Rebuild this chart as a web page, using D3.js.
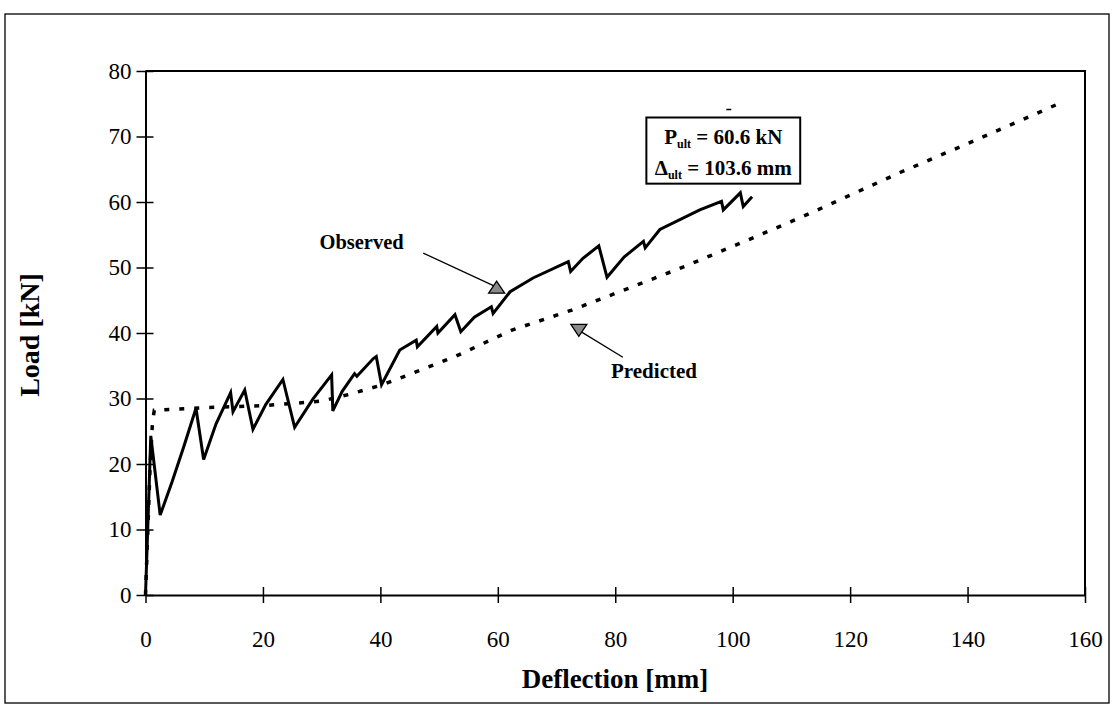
<!DOCTYPE html>
<html>
<head>
<meta charset="utf-8">
<script src="https://cdn.jsdelivr.net/npm/d3@7"></script>
<style>
  html, body { margin: 0; padding: 0; background: #fff; }
  svg { display: block; }
  text { font-family: "Liberation Serif", "Times New Roman", serif; fill: #000; }
</style>
</head>
<body>
<svg id="chart" width="1112" height="709"></svg>
<script>
// ---------- data ----------
const xTicks = [0, 20, 40, 60, 80, 100, 120, 140, 160];
const yTicks = [0, 10, 20, 30, 40, 50, 60, 70, 80];

// Observed load–deflection curve (deflection mm, load kN)
const observedDefl = [0, 0.3, 0.6, 0.9, 2.5, 4.5, 6.5, 8.6, 9.9, 12.0, 14.5, 14.9, 16.9, 18.3, 20.5, 23.4, 25.4, 28.5, 31.7, 31.9, 33.5, 35.6, 36.0, 38.8, 39.3, 40.2, 43.3, 46.1, 46.3, 49.6, 49.8, 52.7, 53.7, 56.0, 58.9, 59.2, 62.1, 66.0, 72.0, 72.4, 74.5, 77.2, 78.6, 81.5, 84.8, 85.1, 87.6, 94.4, 98.1, 98.4, 101.3, 101.8, 103.3];
const observedLoad = [0, 8, 16, 24.3, 12.2, 17.2, 22.6, 28.5, 20.7, 26.1, 30.9, 28.0, 31.3, 25.3, 29.1, 32.9, 25.6, 29.9, 33.6, 28.1, 31.1, 33.8, 33.4, 36.1, 36.4, 32.1, 37.4, 38.9, 37.9, 41.0, 40.0, 42.8, 40.2, 42.4, 44.0, 43.0, 46.3, 48.4, 50.9, 49.4, 51.4, 53.3, 48.5, 51.6, 54.0, 53.0, 55.8, 58.8, 60.1, 58.8, 61.4, 59.3, 60.8];

// Predicted curve
const predictedDefl = [0, 0.4, 0.8, 1.2, 1.5, 10, 20, 30, 35, 40, 43.3, 52.7, 62.3, 72.6, 82.5, 92.2, 101.8, 111.5, 118.9, 128.5, 141.0, 155.5];
const predictedLoad = [0, 10, 20, 26.5, 28.2, 28.6, 28.9, 29.6, 30.7, 32.0, 33.1, 36.4, 40.4, 43.5, 46.9, 50.3, 53.9, 57.6, 60.6, 64.5, 69.3, 75.0];

// ---------- layout ----------
const svg = d3.select("#chart");
const x = d3.scaleLinear().domain([0, 160]).range([145.5, 1085]);
const y = d3.scaleLinear().domain([0, 80]).range([595, 71]);

// outer frame
svg.append("rect").attr("x", 5).attr("y", 14).attr("width", 1104).attr("height", 689)
  .attr("fill", "none").attr("stroke", "#000").attr("stroke-width", 1.3);

// plot frame (top & right)
svg.append("path")
  .attr("d", `M${x(0)},${y(80)} H${x(160)} V${y(0)}`)
  .attr("fill", "none").attr("stroke", "#000").attr("stroke-width", 2);

// y axis
const yAxis = svg.append("g").attr("transform", `translate(${x(0)},0)`)
  .call(d3.axisLeft(y).tickValues(yTicks).tickSizeInner(9).tickSizeOuter(0).tickPadding(5));
yAxis.select(".domain").attr("stroke-width", 2);
yAxis.selectAll(".tick line").attr("x1", 8).attr("x2", -9).attr("stroke-width", 1.5);
yAxis.selectAll(".tick text").attr("font-size", 23)
  .style("font-family", '"Liberation Serif", serif');

// x axis
const xAxis = svg.append("g").attr("transform", `translate(0,${y(0)})`)
  .call(d3.axisBottom(x).tickValues(xTicks).tickSizeInner(8).tickSizeOuter(0).tickPadding(28));
xAxis.select(".domain").attr("stroke-width", 2);
xAxis.selectAll(".tick line").attr("y1", -8).attr("y2", 8).attr("stroke-width", 1.5);
xAxis.selectAll(".tick text").attr("font-size", 23)
  .style("font-family", '"Liberation Serif", serif');

// axis titles
svg.append("text").attr("x", 615).attr("y", 688).attr("text-anchor", "middle")
  .attr("font-size", 27).attr("font-weight", "bold").text("Deflection [mm]");
svg.append("text").attr("transform", `translate(39,${(y(0) + y(80)) / 2 + 2}) rotate(-90)`)
  .attr("text-anchor", "middle").attr("font-size", 28).attr("font-weight", "bold").text("Load [kN]");

// ---------- series ----------
const line = d3.line().x(d => x(d[0])).y(d => y(d[1]));

const predicted = predictedDefl.map((d, i) => [d, predictedLoad[i]]);
svg.append("path").datum(predicted).attr("d", line)
  .attr("fill", "none").attr("stroke", "#000").attr("stroke-width", 3.5)
  .attr("stroke-dasharray", "5,10");

const observed = observedDefl.map((d, i) => [d, observedLoad[i]]);
svg.append("path").datum(observed).attr("d", line)
  .attr("fill", "none").attr("stroke", "#000").attr("stroke-width", 3)
  .attr("stroke-linejoin", "miter").attr("stroke-miterlimit", 4);

// ---------- annotations ----------
// Observed label + arrow
svg.append("text").attr("x", x(36.8)).attr("y", y(52.8)).attr("text-anchor", "middle")
  .attr("font-size", 20.5).attr("font-weight", "bold").text("Observed");
const oa = { x1: x(47.3), y1: y(52.2), x2: x(59.8), y2: y(47.0) };
svg.append("line").attr("x1", oa.x1).attr("y1", oa.y1).attr("x2", oa.x2).attr("y2", oa.y2)
  .attr("stroke", "#000").attr("stroke-width", 1.3);
svg.append("path")
  .attr("d", `M${oa.x2 - 8},${oa.y2 + 6} L${oa.x2 + 8},${oa.y2 + 6} L${oa.x2},${oa.y2 - 6} Z`)
  .attr("fill", "#8a8a8a").attr("stroke", "#000").attr("stroke-width", 1.3);

// Predicted label + arrow
svg.append("text").attr("x", x(86.6)).attr("y", y(33.2)).attr("text-anchor", "middle")
  .attr("font-size", 21).attr("font-weight", "bold").text("Predicted");
const pa = { x1: x(81.3), y1: y(36.3), x2: x(73.8), y2: y(40.4) };
svg.append("line").attr("x1", pa.x1).attr("y1", pa.y1).attr("x2", pa.x2).attr("y2", pa.y2)
  .attr("stroke", "#000").attr("stroke-width", 1.3);
svg.append("path")
  .attr("d", `M${pa.x2 - 8},${pa.y2 - 6} L${pa.x2 + 8},${pa.y2 - 6} L${pa.x2},${pa.y2 + 6} Z`)
  .attr("fill", "#8a8a8a").attr("stroke", "#000").attr("stroke-width", 1.3);

// Ultimate values box
const bx0 = x(85.3), bx1 = x(111.5), by0 = y(72.9), by1 = y(62.8);
svg.append("rect").attr("x", bx0).attr("y", by0).attr("width", bx1 - bx0).attr("height", by1 - by0)
  .attr("fill", "#fff").attr("stroke", "#000").attr("stroke-width", 2);
const bcx = (bx0 + bx1) / 2;
const t1 = svg.append("text").attr("x", bcx).attr("y", by0 + 26).attr("text-anchor", "middle")
  .attr("font-size", 21).attr("font-weight", "bold");
t1.append("tspan").text("P");
t1.append("tspan").attr("font-size", 12).attr("dy", 4).text("ult");
t1.append("tspan").attr("dy", -4).text(" = 60.6 kN");
const t2 = svg.append("text").attr("x", bcx).attr("y", by0 + 57).attr("text-anchor", "middle")
  .attr("font-size", 21).attr("font-weight", "bold");
t2.append("tspan").text("\u0394");
t2.append("tspan").attr("font-size", 12).attr("dy", 4).text("ult");
t2.append("tspan").attr("dy", -4).text(" = 103.6 mm");
// small stray mark above box
svg.append("line").attr("x1", bcx + 3).attr("x2", bcx + 8).attr("y1", by0 - 8).attr("y2", by0 - 8)
  .attr("stroke", "#000").attr("stroke-width", 1.5);
</script>
</body>
</html>
